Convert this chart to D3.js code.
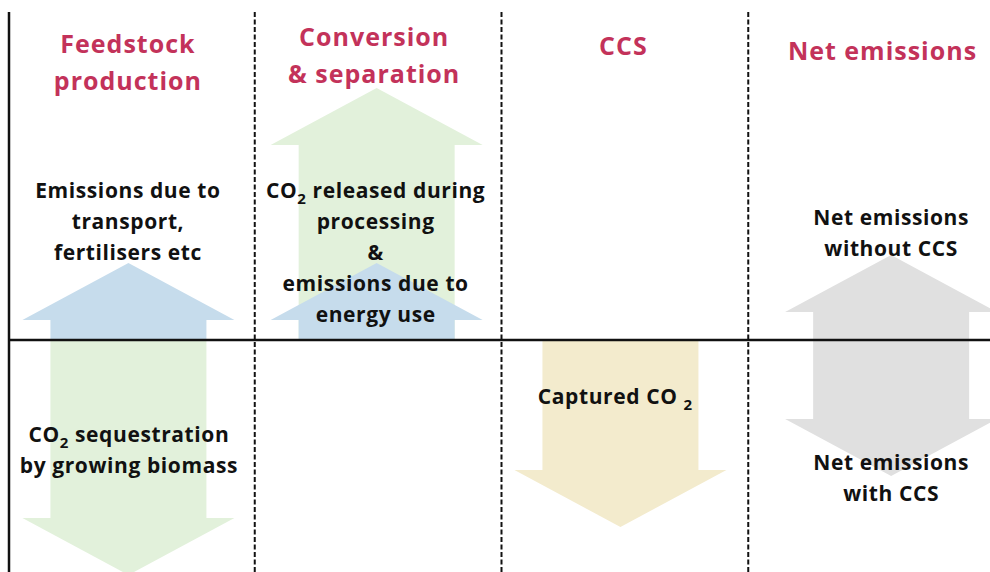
<!DOCTYPE html>
<html>
<head>
<meta charset="utf-8">
<script src="https://cdn.jsdelivr.net/npm/d3@7/dist/d3.min.js"></script>
<style>
  body { margin: 0; background: #fff; }
  text { font-family: "Open Sans", sans-serif; font-weight: 700; }
</style>
</head>
<body>
<div id="chart"></div>
<script>
// Stages of the process, one column each
var stages = ["Feedstock production", "Conversion & separation", "CCS", "Net emissions"];
var stageTitles = [["Feedstock", "production"], ["Conversion", "& separation"], ["CCS"], ["Net emissions"]];

// Arrows: which stage, where it sits in the column, tip value (up = emitted, down = removed)
var arrowStage = [1, 0, 1, 0, 2, 3, 3];
var arrowPos   = [0.49, 0.484, 0.49, 0.484, 0.478, 0.575, 0.575];
var arrowTip   = [252, 77, 77, -235, -187, 85, -136];
var arrowKind  = ["bio", "fossil", "fossil", "bio", "captured", "net", "net"];

// Text inside the diagram ("_2" marks a subscript 2)
var labelLines = [
  ["Emissions due to", "transport,", "fertilisers etc"],
  ["CO_2 released during", "processing", "&", "emissions due to", "energy use"],
  ["CO_2 sequestration", "by growing biomass"],
  ["Captured CO _2"],
  ["Net emissions", "without CCS"],
  ["Net emissions", "with CCS"]
];
var labelStage = [0, 1, 0, 2, 3, 3];
var labelPos   = [0.482, 0.486, 0.486, 0.457, 0.575, 0.575];
var labelTop   = [150, 150, -94, -56, 123, -122];

var width = 990, height = 572;
var headLen = 57, headW = 212, shaftW = 156;
var lineH = 31;

var svg = d3.select("#chart").append("svg")
  .attr("width", width)
  .attr("height", height);

var x = d3.scaleLinear().domain([0, stages.length]).range([9, 996]);
var y = d3.scaleLinear().domain([-232, 328]).range([height, 12]);
var color = d3.scaleOrdinal()
  .domain(["bio", "fossil", "captured", "net"])
  .range(["#e2f1db", "#c6dcec", "#f3ebcd", "#e0e0e0"]);

// Arrows
var arrows = arrowTip.map(function (t, i) {
  return { cx: x(arrowStage[i] + arrowPos[i]), tip: t, kind: arrowKind[i] };
});

function arrowPath(d) {
  var y0 = y(0), yt = y(d.tip), dir = d.tip > 0 ? 1 : -1;
  var yb = yt + dir * headLen;
  var s = shaftW / 2, h = headW / 2;
  return "M" + (d.cx - s) + "," + y0 +
    "L" + (d.cx - s) + "," + yb +
    "L" + (d.cx - h) + "," + yb +
    "L" + d.cx + "," + yt +
    "L" + (d.cx + h) + "," + yb +
    "L" + (d.cx + s) + "," + yb +
    "L" + (d.cx + s) + "," + y0 + "Z";
}

svg.append("g").selectAll("path")
  .data(arrows)
  .enter().append("path")
  .attr("d", arrowPath)
  .attr("fill", function (d) { return color(d.kind); });

// Column dividers
svg.append("g").selectAll("line")
  .data(d3.range(1, stages.length))
  .enter().append("line")
  .attr("x1", function (d) { return x(d) - 1; })
  .attr("x2", function (d) { return x(d) - 1; })
  .attr("y1", y(328))
  .attr("y2", height)
  .attr("stroke", "#111")
  .attr("stroke-width", 2)
  .attr("stroke-dasharray", "5,2.5");

// Axes: zero line and left edge
svg.append("line")
  .attr("x1", x(0)).attr("x2", width)
  .attr("y1", y(0)).attr("y2", y(0))
  .attr("stroke", "#111").attr("stroke-width", 2.5);
svg.append("line")
  .attr("x1", x(0)).attr("x2", x(0))
  .attr("y1", y(328)).attr("y2", height)
  .attr("stroke", "#111").attr("stroke-width", 2.5);

// Stage titles
var titlePos = [0.482, 1.48, 2.49, 3.54];
var titleTop = [296, 303, 294, 289];
stageTitles.forEach(function (lines, i) {
  var t = svg.append("text")
    .attr("text-anchor", "middle")
    .attr("fill", "#c3325a")
    .style("font-size", "25px")
    .style("letter-spacing", "1px");
  lines.forEach(function (ln, j) {
    t.append("tspan")
      .attr("x", x(titlePos[i]))
      .attr("y", y(titleTop[i]) + j * 37)
      .attr("dy", "0.36em")
      .text(ln);
  });
});

// Labels with subscripts
function addLine(g, str, cx, cy) {
  var t = g.append("text")
    .attr("x", cx).attr("y", cy).attr("dy", "0.36em")
    .attr("text-anchor", "middle")
    .attr("fill", "#111")
    .style("font-size", "21px")
    .style("letter-spacing", "0.6px");
  var parts = str.split("_2");
  parts.forEach(function (p, k) {
    if (k > 0) {
      t.append("tspan").attr("dy", 6).style("font-size", "15px").text("2");
      t.append("tspan").attr("dy", -6).text(p);
    } else {
      t.append("tspan").text(p);
    }
  });
}

var labels = svg.append("g");
labelLines.forEach(function (lines, i) {
  lines.forEach(function (ln, j) {
    addLine(labels, ln, x(labelStage[i] + labelPos[i]), y(labelTop[i]) + j * lineH);
  });
});
</script>
</body>
</html>
